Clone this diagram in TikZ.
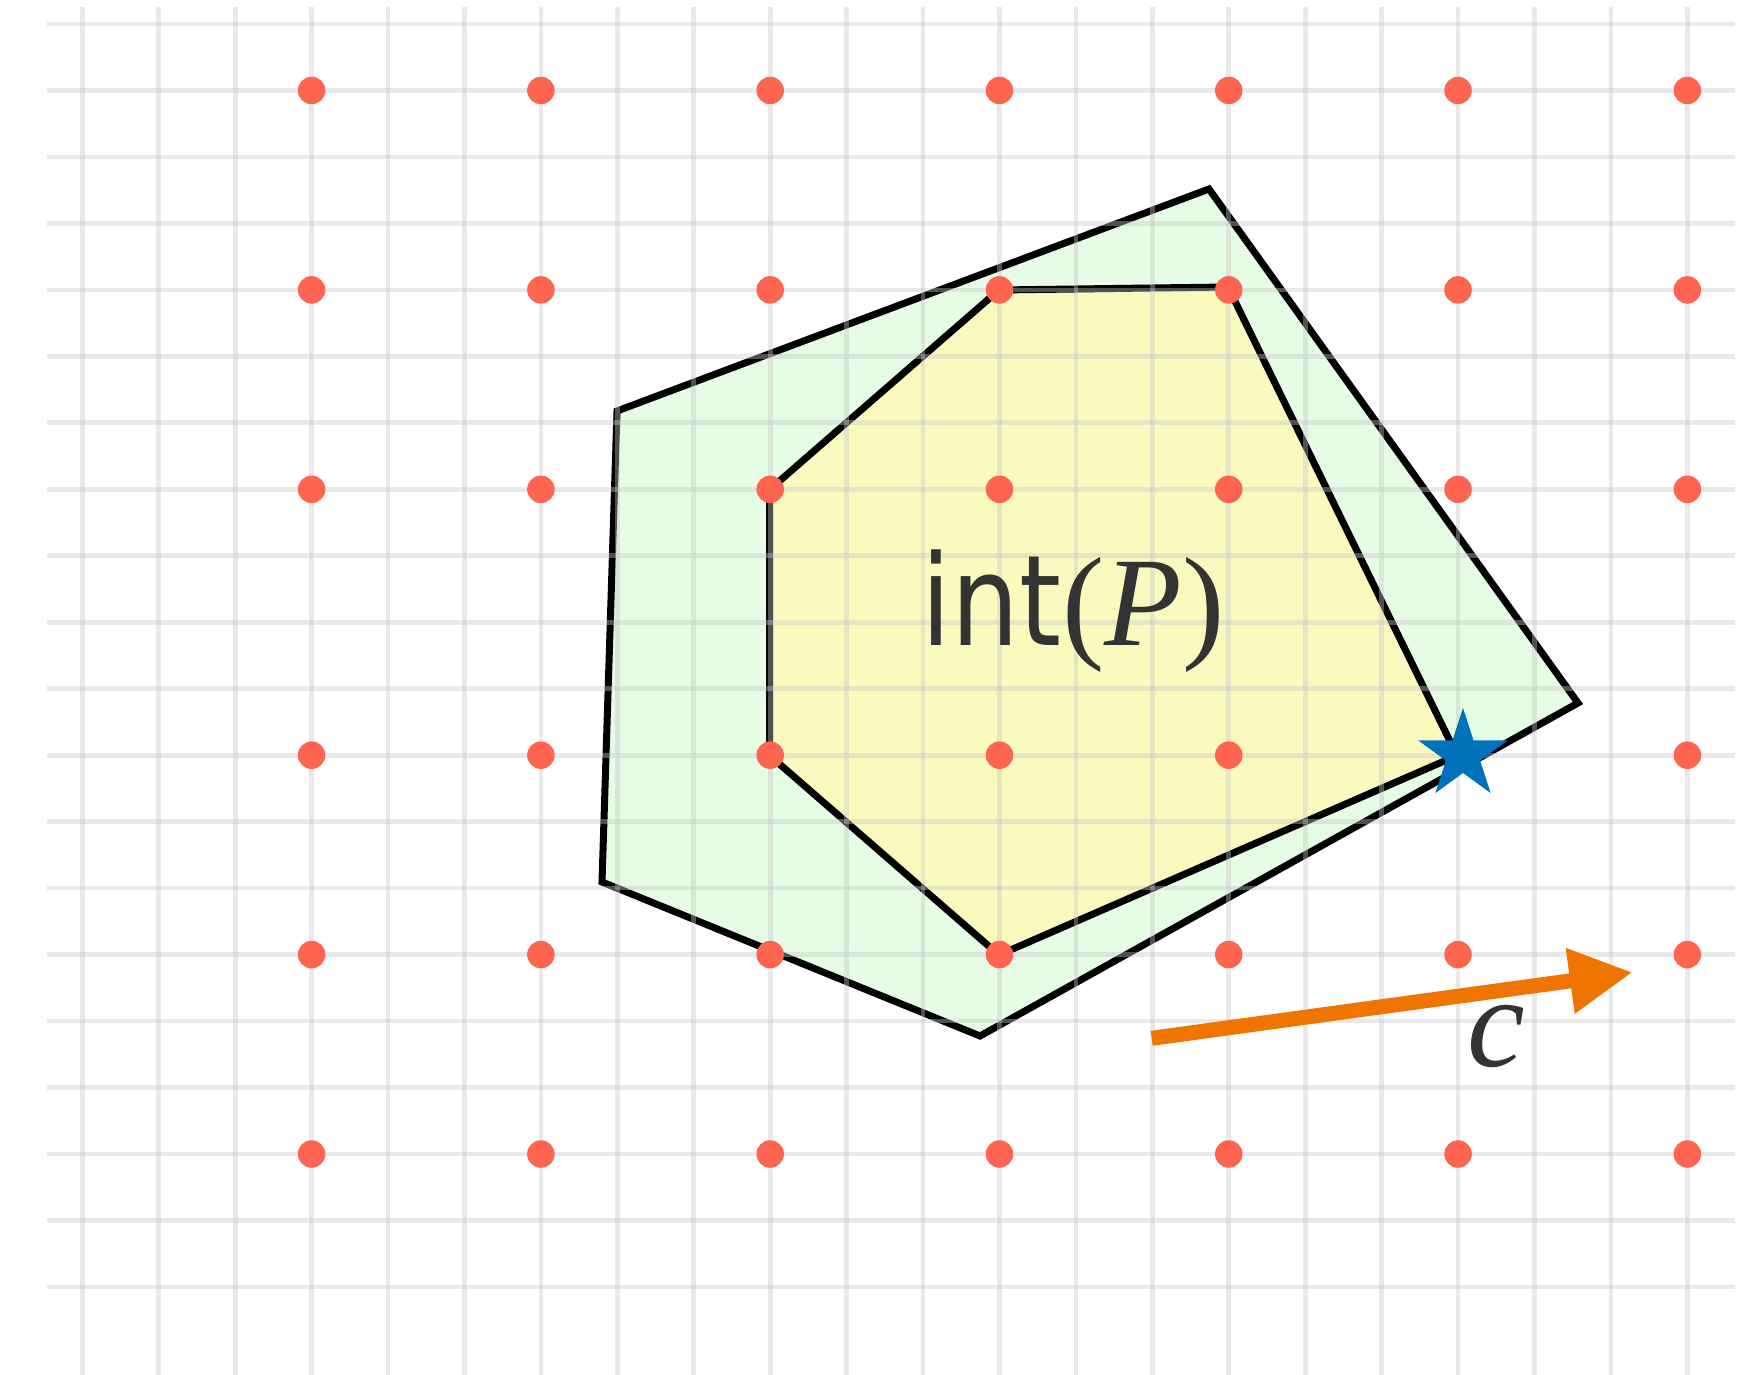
\documentclass[tikz,border=0pt]{standalone}
\usepackage{fontspec}
\usepackage{graphicx}
\usetikzlibrary{arrows.meta,shapes.geometric}
\newfontfamily\intfont{DejaVu Sans}
\newfontfamily\serifx{Liberation Serif}
\definecolor{gridc}{RGB}{200,200,200}
\definecolor{pgreen}{RGB}{229,252,229}
\definecolor{pyellow}{RGB}{250,250,190}
\definecolor{dotc}{RGB}{255,100,80}
\definecolor{starc}{RGB}{0,114,187}
\definecolor{arrc}{RGB}{240,116,0}
\definecolor{txtc}{RGB}{51,51,51}
\begin{document}
\begin{tikzpicture}[x=1pt,y=-1pt,
  gridline/.style={draw=gridc, draw opacity=0.4, line width=4.7pt},
  polyedge/.style={draw=black, line width=7pt, line join=miter},
  latpt/.style={circle, fill=dotc, inner sep=0pt, minimum size=27.5pt},
  optstar/.style={star, star points=5, star point ratio=2.618, fill=starc, inner sep=0pt, minimum size=94pt},
  carrow/.style={draw=arrc, line width=15pt, -{Triangle[length=63pt,width=62pt]}},
  lbltext/.style={text=txtc, inner sep=0pt, anchor=base west}]
\useasboundingbox (0,0) rectangle (1762,1375);
\fill[white] (0,0) rectangle (1762,1375);

% polygon P
\coordinate (o1) at (617,411);
\coordinate (o2) at (1209,189);
\coordinate (o3) at (1578,703);
\coordinate (o4) at (980,1036);
\coordinate (o5) at (602,882);
\filldraw[fill=pgreen, polyedge] (o1) -- (o2) -- (o3) -- (o4) -- (o5) -- cycle;

% integer hull
\coordinate (i1) at (769.7,489.5);
\coordinate (i2) at (999,290);
\coordinate (i3) at (1228,287);
\coordinate (i4) at (1457,755.5);
\coordinate (i5) at (999,955);
\coordinate (i6) at (769.7,755.5);
\filldraw[fill=pyellow, polyedge] (i1) -- (i2) -- (i3) -- (i4) -- (i5) -- (i6) -- cycle;

% grid
\foreach \k in {0,...,21} \draw[gridline] ({82.3+76.43*\k},7) -- ({82.3+76.43*\k},1375);
\foreach \j in {0,...,19} \draw[gridline] (47,{24+66.47*\j}) -- (1735,{24+66.47*\j});

% lattice points
\foreach \k in {3,6,...,21} \foreach \j in {1,4,7,11,14,17}
  \node[latpt] (p\k-\j) at ({82.3+76.43*\k},{24+66.47*\j}) {};

% optimum
\node[optstar] (opt) at (1463,755) {};

% objective direction
\coordinate (ctail) at (1151.7,1038.3);
\coordinate (chead) at (1632.6,972.3);
\draw[carrow] (ctail) -- (chead);

% labels
\node[lbltext] (intlbl) at (921.7,645.7) {\intfont\fontsize{126}{126}\selectfont\scalebox{0.85}[1]{int}};
\node[lbltext] (plbl) at (1062,645.7) {\serifx\fontsize{127}{127}\selectfont (\textit{P})};
\node[lbltext] (clbl) at (1467,1066) {\serifx\fontsize{130}{130}\selectfont\textit{c}};
\end{tikzpicture}
\end{document}
